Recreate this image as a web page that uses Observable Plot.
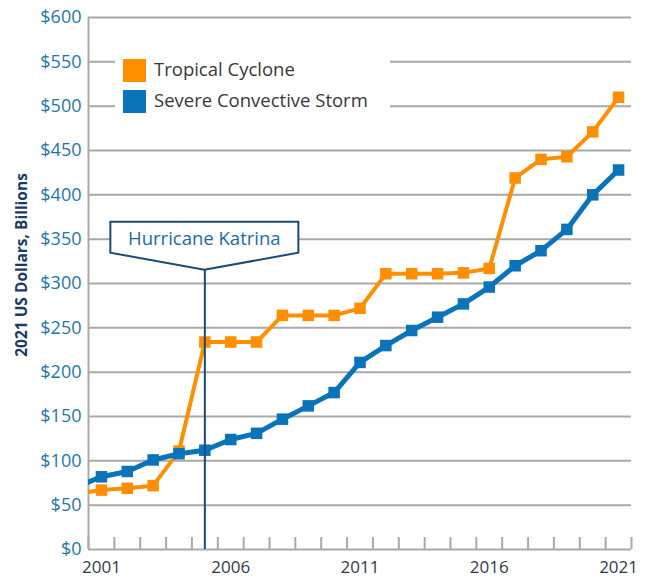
<!DOCTYPE html>
<html><head><meta charset="utf-8">
<script src="https://cdn.jsdelivr.net/npm/d3@7"></script>
<script src="https://cdn.jsdelivr.net/npm/@observablehq/plot@0.6"></script>
<style>
body{margin:0;background:#fff;}
#chart{width:653px;height:579px;}
</style></head><body><div id="chart"></div>
<script>
// ---- data ----
const years = [2000,2001,2002,2003,2004,2005,2006,2007,2008,2009,2010,2011,2012,2013,2014,2015,2016,2017,2018,2019,2020,2021];
const tropicalCyclone = [63,67,69,72,111,234,234,234,264,264,264,272,311,311,311,312,317,419,440,443,471,510];
const severeConvectiveStorm = [70,82,88,101,108,112,124,131,147,162,177,211,230,247,262,277,296,320,337,361,400,428];
const seriesNames = ["Tropical Cyclone", "Severe Convective Storm"];
const seriesColors = ["#ff8f00", "#0a73ba"];
const yTicks = [0,50,100,150,200,250,300,350,400,450,500,550,600];
const xLabelYears = [2001,2006,2011,2016,2021];
const xTickBoundaries = [2000.5,2001.5,2002.5,2003.5,2004.5,2005.5,2006.5,2007.5,2008.5,2009.5,2010.5,2011.5,2012.5,2013.5,2014.5,2015.5,2016.5,2017.5,2018.5,2019.5,2020.5,2021.5];
const xDomain = [2000.5, 2021.5];
const katrinaYear = 2005;
const katrinaTip = 315;
const katrinaLabel = "Hurricane Katrina";
const yTitle = "2021 US Dollars, Billions";

const rows = [];
years.forEach((yr, i) => {
  rows.push({year: yr, value: tropicalCyclone[i], series: seriesNames[0]});
});
years.forEach((yr, i) => {
  rows.push({year: yr, value: severeConvectiveStorm[i], series: seriesNames[1]});
});

const font = "'Open Sans', 'DejaVu Sans', sans-serif";
const grid = "#a9a9a9";
const navy = "#1b4a78";

const chart = Plot.plot({
  width: 653, height: 579,
  marginLeft: 88, marginRight: 22, marginTop: 17, marginBottom: 30,
  style: {fontFamily: font, background: "#fff", overflow: "visible"},
  x: {domain: xDomain, label: null},
  y: {domain: [0, 600], label: null},
  color: {domain: seriesNames, range: seriesColors},
  marks: [
    Plot.ruleY(yTicks, {stroke: grid, strokeWidth: 2}),
    Plot.ruleX([xDomain[0]], {stroke: grid, strokeWidth: 2}),
    Plot.axisY(yTicks, {tickSize: 0, tickPadding: 7, fontSize: 18, fill: "#2576a8", tickFormat: d => "$" + d, label: null}),
    Plot.axisX(xTickBoundaries, {tickSize: -12, tickFormat: () => "", stroke: grid, strokeWidth: 2, label: null}),
    Plot.axisX(xLabelYears, {tickSize: 0, tickPadding: 11, fontSize: 17, fill: "#2f3b48", tickFormat: d => String(d), label: null}),
    Plot.line(rows.filter(d => d.series === seriesNames[0]), {x: "year", y: "value", stroke: "series", strokeWidth: 4, clip: true}),
    Plot.dot(rows.filter(d => d.series === seriesNames[0]), {x: "year", y: "value", fill: "series", symbol: "square", r: 6.5, clip: true}),
    Plot.line(rows.filter(d => d.series === seriesNames[1]), {x: "year", y: "value", stroke: "series", strokeWidth: 5, clip: true}),
    Plot.dot(rows.filter(d => d.series === seriesNames[1]), {x: "year", y: "value", fill: "series", symbol: "square", r: 6.5, clip: true}),
    Plot.ruleX([katrinaYear], {y1: 0, y2: katrinaTip, stroke: navy, strokeWidth: 2})
  ]
});
document.getElementById("chart").appendChild(chart);

// ---- annotations (callout, legend, y title) ----
const svg = d3.select(chart);
const xs = chart.scale("x"), ys = chart.scale("y");
const sx = v => xs.apply ? xs.apply(v) : xs.range[0] + (v - xs.domain[0]) / (xs.domain[1] - xs.domain[0]) * (xs.range[1] - xs.range[0]);
const sy = v => ys.apply ? ys.apply(v) : ys.range[0] + (v - ys.domain[0]) / (ys.domain[1] - ys.domain[0]) * (ys.range[1] - ys.range[0]);

const tx = sx(katrinaYear), ty = sy(katrinaTip);
const hw = 94;
svg.append("path")
  .attr("d", `M${tx - hw},${ty - 48}L${tx + hw},${ty - 48}L${tx + hw},${ty - 17}L${tx},${ty}L${tx - hw},${ty - 17}Z`)
  .attr("fill", "#fff").attr("stroke", navy).attr("stroke-width", 2).attr("stroke-linejoin", "miter");
svg.append("text")
  .attr("x", tx).attr("y", ty - 32).attr("text-anchor", "middle").attr("dominant-baseline", "central")
  .attr("font-family", font).attr("font-size", 18.5).attr("fill", "#1d6aa5").text(katrinaLabel);

// legend inside plot
const lg = svg.append("g");
lg.append("rect").attr("x", 115).attr("y", 48).attr("width", 275).attr("height", 70).attr("fill", "#fff");
seriesNames.forEach((name, i) => {
  const yy = 59 + i * 31;
  lg.append("rect").attr("x", 123).attr("y", yy).attr("width", 23).attr("height", 23).attr("fill", seriesColors[i]);
  lg.append("text").attr("x", 154).attr("y", yy + 17).attr("text-anchor", "start")
    .attr("font-family", font).attr("font-size", 18.5)
    .attr("fill", "#383838").text(name);
});

// y-axis title
svg.append("text")
  .attr("transform", `translate(21,${(sy(600) + sy(0)) / 2 - 18}) rotate(-90)`)
  .attr("text-anchor", "middle").attr("dominant-baseline", "central")
  .attr("font-family", font).attr("font-size", 15.5).attr("font-weight", "bold")
  .attr("fill", "#1b3a66").text(yTitle);
</script>
</body></html>
